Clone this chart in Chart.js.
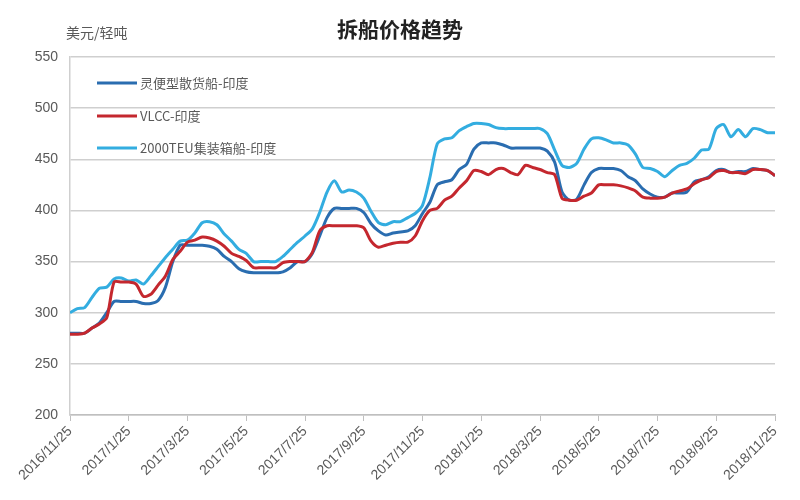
<!DOCTYPE html>
<html>
<head>
<meta charset="utf-8">
<script src="https://cdn.jsdelivr.net/npm/chart.js@4.4.1/dist/chart.umd.min.js"></script>
<style>
  html, body { margin: 0; padding: 0; background: #ffffff; }
  #wrap { width: 800px; height: 500px; position: relative; }
</style>
</head>
<body>
<div id="wrap"><canvas id="c" width="800" height="500"></canvas></div>
<script>
// ---- data (one point per ~quarter month) ----
const chartTitle = '拆船价格趋势';
const unitLabel = '美元/轻吨';
const tickLabels = ['2016/11/25','2017/1/25','2017/3/25','2017/5/25','2017/7/25','2017/9/25',
  '2017/11/25','2018/1/25','2018/3/25','2018/5/25','2018/7/25','2018/9/25','2018/11/25'];
const seriesNames = ['灵便型散货船-印度', 'VLCC-印度', '2000TEU集装箱船-印度'];

const handysize = [280,280,280,285,290,300,311,311,311,311,309,309,312,325,350,366,366,366,366,365,
  362,355,350,343,340,339,339,339,339,340,344,350,350,358,375,393,402,402,402,402,
  398,387,380,376,378,379,380,385,397,408,425,428,430,440,445,460,466,466,466,464,
  461,461,461,461,461,458,447,418,410,411,425,437,441,441,441,439,433,429,421,416,
  413,413,417,417,418,428,430,433,439,440,437,438,438,441,440,439,434];

const vlcc = [279,279,280,285,289,295,330,330,330,328,316,318,327,336,352,360,369,371,374,373,
  370,365,358,355,351,344,344,344,344,349,350,350,350,359,380,385,385,385,385,385,
  383,370,364,366,368,369,369,375,390,400,402,410,414,422,429,439,438,435,440,441,
  437,435,444,442,440,437,435,412,410,410,414,417,425,425,425,424,422,419,413,412,
  412,413,417,419,421,426,430,432,438,439,437,437,436,440,440,439,434];

const teu2000 = [300,304,305,315,324,325,333,334,331,332,328,336,345,354,362,370,371,378,388,389,
  386,377,370,362,358,350,350,350,350,355,362,369,375,382,398,418,429,418,420,418,
  412,399,388,386,389,389,393,397,405,432,465,470,471,478,482,485,485,484,481,480,
  480,480,480,480,480,475,459,444,442,446,460,470,471,469,466,466,464,455,442,441,
  438,433,439,444,446,451,459,460,480,484,472,479,472,480,479,476,476];

const seriesColors = ['#2a6db0', '#c4272e', '#33ade0'];
const stepsPerLabel = 8;

const toXY = arr => arr.map((v, i) => ({ x: i, y: v }));

const decor = {
  id: 'decor',
  afterDraw(chart) {
    const ctx = chart.ctx;
    ctx.save();
    ctx.fillStyle = '#222222';
    ctx.font = 'bold 21px "Noto Sans CJK SC", sans-serif';
    ctx.textAlign = 'center';
    ctx.textBaseline = 'middle';
    ctx.fillText(chartTitle, 400, 29);

    ctx.fillStyle = '#595959';
    ctx.font = '14px "Noto Sans CJK SC", sans-serif';
    ctx.textAlign = 'left';
    ctx.fillText(unitLabel, 66, 33);

    const ys = [83, 116, 148];
    chart.data.datasets.forEach((ds, i) => {
      ctx.strokeStyle = ds.borderColor;
      ctx.lineWidth = 3;
      ctx.beginPath();
      ctx.moveTo(97, ys[i]);
      ctx.lineTo(137, ys[i]);
      ctx.stroke();
      ctx.fillStyle = '#595959';
      ctx.font = '13px "Noto Sans CJK SC", sans-serif';
      ctx.textAlign = 'left';
      ctx.textBaseline = 'middle';
      ctx.fillText(ds.label, 140, ys[i]);
    });
    ctx.restore();
  }
};

new Chart(document.getElementById('c'), {
  type: 'line',
  data: {
    datasets: [
      { label: seriesNames[0], data: toXY(handysize), borderColor: seriesColors[0], order: 1 },
      { label: seriesNames[1], data: toXY(vlcc), borderColor: seriesColors[1], order: 0 },
      { label: seriesNames[2], data: toXY(teu2000), borderColor: seriesColors[2], order: 2 }
    ]
  },
  options: {
    responsive: false,
    animation: false,
    layout: { padding: { top: 57, right: 25, left: 0, bottom: 0 } },
    elements: {
      line: { borderWidth: 3, tension: 0.25, fill: false },
      point: { radius: 0 }
    },
    plugins: { legend: { display: false }, title: { display: false }, tooltip: { enabled: false } },
    scales: {
      x: {
        type: 'linear',
        min: 0,
        max: (tickLabels.length - 1) * stepsPerLabel,
        afterFit(scale) { scale.height = 85; },
        afterBuildTicks(scale) {
          scale.ticks = tickLabels.map((_, i) => ({ value: i * stepsPerLabel }));
        },
        ticks: {
          autoSkip: false,
          maxRotation: 45,
          minRotation: 45,
          padding: 2,
          color: '#595959',
          font: { family: '"Liberation Sans", Arial, sans-serif', size: 14 },
          callback: (v) => tickLabels[Math.round(v / stepsPerLabel)]
        },
        grid: { drawOnChartArea: false, drawTicks: true, tickLength: 6, color: '#bfbfbf', lineWidth: 1 },
        border: { display: true, color: '#bfbfbf', width: 1.5 }
      },
      y: {
        min: 200,
        max: 550,
        afterFit(scale) { scale.width = 70; },
        ticks: {
          stepSize: 50,
          padding: 12,
          color: '#595959',
          font: { family: '"Liberation Sans", Arial, sans-serif', size: 14 }
        },
        grid: { color: '#cfcfcf', lineWidth: 1.5, drawTicks: false },
        border: { display: true, color: '#cfcfcf', width: 1.5 }
      }
    }
  },
  plugins: [decor]
});
</script>
</body>
</html>
